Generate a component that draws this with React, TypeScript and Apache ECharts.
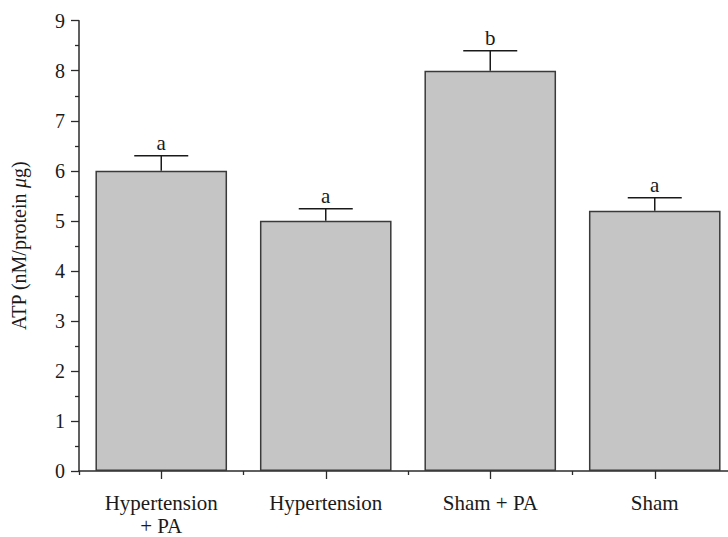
import React, { useEffect, useRef } from "react";
import * as echarts from "echarts";

const categories = ["Hypertension\n+ PA", "Hypertension", "Sham + PA", "Sham"];
const means = [6.0, 5.0, 8.0, 5.2];
const upperErrors = [0.3, 0.24, 0.4, 0.26];
const letters = ["a", "a", "b", "a"];
const yTicks = [0, 1, 2, 3, 4, 5, 6, 7, 8, 9];

const FONT = "'Liberation Serif', 'Times New Roman', serif";
const INK = "#2b2b2b";

export default function App() {
  const ref = useRef<HTMLDivElement>(null);

  useEffect(() => {
    if (!ref.current) return;
    const chart = echarts.init(ref.current, undefined, { renderer: "svg" });
    const errData = categories.map((_, i) => [i, means[i], means[i] + upperErrors[i], letters[i]]);

    chart.setOption({
      animation: false,
      backgroundColor: "#ffffff",
      grid: { left: 79, top: 20.7, bottom: 63.6, right: 3, containLabel: false },
      xAxis: [
        {
          type: "category",
          data: categories,
          position: "bottom",
          axisLine: { show: true, lineStyle: { color: INK, width: 1.5 } },
          axisTick: { show: true, alignWithLabel: true, length: 8, lineStyle: { color: INK, width: 1.3 } },
          axisLabel: {
            show: true,
            margin: 20,
            color: "#1a1a1a",
            fontFamily: FONT,
            fontSize: 21,
            lineHeight: 23,
          },
          splitLine: { show: false },
        },
        {
          type: "category",
          data: categories,
          position: "bottom",
          axisLine: { show: false },
          axisTick: { show: true, alignWithLabel: false, length: 4, lineStyle: { color: INK, width: 1.3 } },
          axisLabel: { show: false },
          splitLine: { show: false },
        },
      ],
      yAxis: {
        type: "value",
        min: yTicks[0],
        max: yTicks[yTicks.length - 1],
        interval: 1,
        name: "{n|ATP (nM/protein }{i|μ}{n|g)}",
        nameLocation: "middle",
        nameGap: 50,
        nameRotate: 90,
        nameTextStyle: {
          rich: {
            n: { fontFamily: FONT, fontSize: 20, color: "#1a1a1a" },
            i: { fontFamily: FONT, fontSize: 20, fontStyle: "italic", color: "#1a1a1a" },
          },
        },
        axisLine: { show: true, lineStyle: { color: INK, width: 1.5 } },
        axisTick: { show: true, inside: false, length: 8, lineStyle: { color: INK, width: 1.3 } },
        minorTick: { show: true, splitNumber: 2, length: 4, lineStyle: { color: INK, width: 1.3 } },
        axisLabel: { margin: 14, color: "#1a1a1a", fontFamily: FONT, fontSize: 20 },
        splitLine: { show: false },
      },
      series: [
        {
          type: "bar",
          xAxisIndex: 0,
          data: means,
          barWidth: "80%",
          itemStyle: { color: "#c4c5c4", borderColor: "#3a3a3a", borderWidth: 1.5 },
        },
        {
          type: "custom",
          xAxisIndex: 0,
          data: errData,
          z: 5,
          renderItem: (params: any, api: any) => {
            const idx = api.value(0);
            const base = api.coord([idx, api.value(1)]);
            const top = api.coord([idx, api.value(2)]);
            const half = 27;
            const letter = letters[params.dataIndex];
            return {
              type: "group",
              children: [
                {
                  type: "line",
                  shape: { x1: base[0], y1: base[1], x2: top[0], y2: top[1] },
                  style: { stroke: "#1a1a1a", lineWidth: 1.5 },
                },
                {
                  type: "line",
                  shape: { x1: top[0] - half, y1: top[1], x2: top[0] + half, y2: top[1] },
                  style: { stroke: "#1a1a1a", lineWidth: 1.5 },
                },
                {
                  type: "text",
                  x: top[0],
                  y: top[1] - 2,
                  style: {
                    text: letter,
                    fill: "#1a1a1a",
                    font: `21px ${FONT}`,
                    align: "center",
                    verticalAlign: "bottom",
                  },
                },
              ],
            };
          },
        },
      ],
    });

    return () => chart.dispose();
  }, []);

  return (
    <div
      style={{ position: "absolute", left: 0, top: 0, width: 728, height: 537, overflow: "hidden" }}
    >
      <div ref={ref} style={{ width: 740, height: 537 }} />
    </div>
  );
}
